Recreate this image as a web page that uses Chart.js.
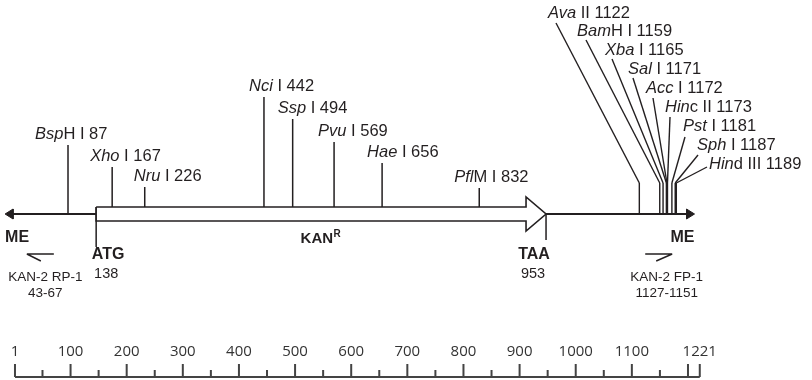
<!DOCTYPE html>
<html lang="en">
<head>
<meta charset="UTF-8">
<title>KAN-2 element map</title>
<script src="https://cdn.jsdelivr.net/npm/chart.js"></script>
<style>
  html, body { margin: 0; padding: 0; background: #fff; }
  canvas { display: block; }
</style>
</head>
<body>
<canvas id="map" width="812" height="380"></canvas>
<script>
// restriction sites (bp), name split as italic|roman
const sitePos  = [87, 167, 226, 442, 494, 569, 656, 832];
const siteName = ['Bsp|H I', 'Xho| I', 'Nru| I', 'Nci| I', 'Ssp| I', 'Pvu| I', 'Hae| I', 'Pfl|M I'];
// cluster of sites near the right ME
const mcsPos  = [1122, 1159, 1165, 1171, 1172, 1173, 1181, 1187, 1189];
const mcsName = ['Ava| II', 'Bam|H I', 'Xba| I', 'Sal| I', 'Acc| I', 'Hin|c II', 'Pst| I', 'Sph| I', 'Hin|d III'];
// KAN resistance ORF
const kanStart = 138;
const kanStop = 953;
// primers
const primerName  = ['KAN-2 RP-1', 'KAN-2 FP-1'];
const primerFrom  = [43, 1127];
const primerTo    = [67, 1151];
const primerDir   = [-1, 1];
// element ends as drawn, and the scale bar
const meEnds = [-27, 1222];
const rulerMajor  = [1, 100, 200, 300, 400, 500, 600, 700, 800, 900, 1000, 1100, 1200, 1221];
const rulerMinor  = [50, 150, 250, 350, 450, 550, 650, 750, 850, 950, 1050, 1150];
const rulerLabels = ['1', '100', '200', '300', '400', '500', '600', '700', '800', '900', '1000', '1100', '', '1221'];

// ---- layout (pixel rows / offsets) ----
const W = 812;
const MAIN_Y = 214, BOX_TOP = 207, BOX_BOT = 221, HEAD_TOP = 197, HEAD_BOT = 231;
const siteTop = [145, 167, 187, 97, 119, 142, 163, 188];
const siteLabelDx = [33, 22, 11, 15, 15, 16, 15, 25];
const mcsBend = 183;
const mcsLabelX = [548, 577, 605, 628, 646, 665, 683, 697, 709];
const mcsLeadX  = [556, 586, 612, 633, 653, 670, 685, 698, 707];
const mcsLeadY  = [23, 40, 59, 78, 98, 117, 137, 155, 167];
const RULER_Y = 377;
const INK = '#231f20';

const MAP_MIN = -36.2, MAP_MAX = MAP_MIN + W / 0.552;
const RUL_MIN = -25.7, RUL_MAX = RUL_MIN + W / 0.5613;
const bpPerPx = (MAP_MAX - MAP_MIN) / W;

function segs(list) {
  // list of [x1,y1,x2,y2] -> points with gaps
  const out = [];
  list.forEach(s => {
    out.push({x: s[0], y: s[1]}, {x: s[2], y: s[3]}, {x: s[2], y: NaN});
  });
  return out;
}
function lineSet(data, opts) {
  return Object.assign({data, showLine: true, borderColor: INK, borderWidth: 1.5,
    pointRadius: 0, fill: false, spanGaps: false, order: 3}, opts || {});
}

const headLen = 14.5, headH = 5;
const kanHead = 20 * bpPerPx;

const datasets = [
  // KAN box arrow (white, over the main line)
  lineSet([
    {x: kanStart, y: BOX_TOP}, {x: kanStop - kanHead, y: BOX_TOP}, {x: kanStop - kanHead, y: HEAD_TOP},
    {x: kanStop, y: MAIN_Y}, {x: kanStop - kanHead, y: HEAD_BOT}, {x: kanStop - kanHead, y: BOX_BOT},
    {x: kanStart, y: BOX_BOT}, {x: kanStart, y: BOX_TOP}
  ], {fill: 'shape', backgroundColor: '#fff', borderWidth: 1.6, order: 1}),
  // ME arrowheads
  lineSet([
    {x: meEnds[0], y: MAIN_Y}, {x: meEnds[0] + headLen, y: MAIN_Y - headH},
    {x: meEnds[0] + headLen, y: MAIN_Y + headH}, {x: meEnds[0], y: MAIN_Y}
  ], {fill: 'shape', backgroundColor: INK, borderWidth: 1, order: 1}),
  lineSet([
    {x: meEnds[1], y: MAIN_Y}, {x: meEnds[1] - headLen, y: MAIN_Y - headH},
    {x: meEnds[1] - headLen, y: MAIN_Y + headH}, {x: meEnds[1], y: MAIN_Y}
  ], {fill: 'shape', backgroundColor: INK, borderWidth: 1, order: 1}),
  // main line
  lineSet([{x: meEnds[0] + 4, y: MAIN_Y}, {x: meEnds[1] - 4, y: MAIN_Y}], {borderWidth: 2, order: 5}),
  // start / stop codon marks
  lineSet(segs([[kanStart, BOX_TOP, kanStart, 247], [kanStop, MAIN_Y, kanStop, 240]]), {order: 2}),
  // single sites
  lineSet(segs(sitePos.map((p, i) => {
    const base = (p > kanStart && p < kanStop) ? BOX_TOP : MAIN_Y;
    return [p, base, p, siteTop[i]];
  })), {order: 2}),
  // cluster verticals
  lineSet(segs(mcsPos.map(p => [p, MAIN_Y, p, mcsBend])), {borderWidth: 1.4, order: 2}),
  // scale bar
  lineSet([{x: 1, y: RULER_Y}, {x: 1221, y: RULER_Y}], {xAxisID: 'xr', borderColor: '#444', borderWidth: 2}),
  lineSet(segs(rulerMajor.map(v => [v, RULER_Y, v, RULER_Y - 13])), {xAxisID: 'xr', borderColor: '#444', borderWidth: 2}),
  lineSet(segs(rulerMinor.map(v => [v, RULER_Y, v, RULER_Y - 7])), {xAxisID: 'xr', borderColor: '#444', borderWidth: 2})
];

const FONT = '"Liberation Sans", Arial, Helvetica, sans-serif';
function drawRich(ctx, name, extra, x, y, size) {
  const [it, rest] = name.split('|');
  let cx = x;
  [[it, true], [rest + ' ' + extra, false]].forEach(([t, ital]) => {
    ctx.font = (ital ? 'italic ' : '') + size + 'px ' + FONT;
    ctx.fillText(t, cx, y);
    cx += ctx.measureText(t).width;
  });
}
function text(ctx, t, x, y, font, align) {
  ctx.font = font;
  ctx.textAlign = align || 'center';
  ctx.fillText(t, x, y);
  ctx.textAlign = 'left';
}

const annotations = {
  id: 'annotations',
  afterDatasetsDraw(chart) {
    const ctx = chart.ctx;
    const x = chart.scales.x, xr = chart.scales.xr;
    ctx.save();
    ctx.fillStyle = INK;
    ctx.strokeStyle = INK;
    ctx.textBaseline = 'middle';
    ctx.textAlign = 'left';

    // single site labels
    sitePos.forEach((p, i) => {
      drawRich(ctx, siteName[i], p, x.getPixelForValue(p) - siteLabelDx[i], siteTop[i] - 11, 16.5);
    });
    // cluster leaders + labels
    ctx.lineWidth = 1.4;
    mcsPos.forEach((p, i) => {
      ctx.beginPath();
      ctx.moveTo(x.getPixelForValue(p), mcsBend);
      ctx.lineTo(mcsLeadX[i], mcsLeadY[i]);
      ctx.stroke();
      drawRich(ctx, mcsName[i], p, mcsLabelX[i], 13 + 18.9 * i, 16.5);
    });

    // ME / ATG / TAA / KAN
    const bold = 'bold 16px ' + FONT;
    text(ctx, 'ME', x.getPixelForValue(meEnds[0]), 238, bold, 'left');
    text(ctx, 'ME', x.getPixelForValue(meEnds[1]), 238, bold, 'right');
    text(ctx, 'ATG', x.getPixelForValue(kanStart) + 12, 255, bold);
    text(ctx, String(kanStart), x.getPixelForValue(kanStart) + 10, 274, '14.5px ' + FONT);
    text(ctx, 'TAA', x.getPixelForValue(kanStop) - 12, 255, bold);
    text(ctx, String(kanStop), x.getPixelForValue(kanStop) - 13, 274, '14.5px ' + FONT);
    const kx = x.getPixelForValue((kanStart + kanStop) / 2) + 12;
    text(ctx, 'KAN', kx, 239, 'bold 15px ' + FONT, 'right');
    text(ctx, 'R', kx + 0.5, 234, 'bold 10px ' + FONT, 'left');

    // primers: half arrows + labels
    primerName.forEach((n, i) => {
      const mid = x.getPixelForValue((primerFrom[i] + primerTo[i]) / 2) + primerDir[i] * 10;
      const a = mid - 13.5, b = mid + 13.5;
      ctx.lineWidth = 1.4;
      ctx.beginPath();
      ctx.moveTo(a, 254); ctx.lineTo(b, 254);
      if (primerDir[i] < 0) { ctx.moveTo(a, 254); ctx.lineTo(a + 14, 261); }
      else { ctx.moveTo(b, 254); ctx.lineTo(b - 16, 261); }
      ctx.stroke();
      const lx = mid + primerDir[i] * -5 + (primerDir[i] > 0 ? 13 : 0);
      text(ctx, n, lx, 277, '13.5px ' + FONT);
      text(ctx, primerFrom[i] + '-' + primerTo[i], lx, 293, '13.5px ' + FONT);
    });

    // scale labels
    ctx.fillStyle = '#333';
    rulerMajor.forEach((v, i) => {
      if (rulerLabels[i]) text(ctx, rulerLabels[i], xr.getPixelForValue(v), 352, '15px "Open Sans", ' + FONT);
    });
    ctx.restore();
  }
};

new Chart(document.getElementById('map').getContext('2d'), {
  type: 'scatter',
  data: {datasets},
  options: {
    responsive: false,
    animation: false,
    layout: {padding: 0},
    plugins: {legend: {display: false}, tooltip: {enabled: false}},
    scales: {
      x:  {type: 'linear', min: MAP_MIN, max: MAP_MAX, display: false},
      xr: {type: 'linear', axis: 'x', min: RUL_MIN, max: RUL_MAX, display: false},
      y:  {type: 'linear', min: 0, max: 380, reverse: true, display: false}
    }
  },
  plugins: [annotations]
});
</script>
</body>
</html>
